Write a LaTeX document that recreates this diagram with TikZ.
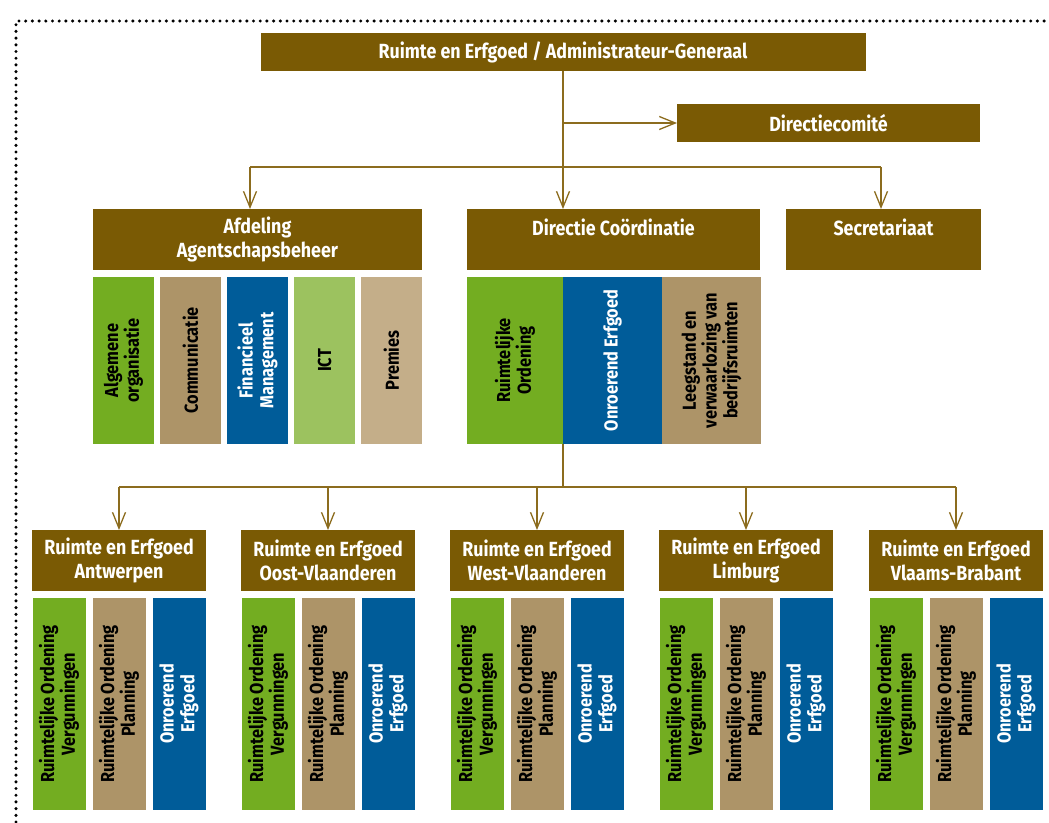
\documentclass[tikz,border=0pt]{standalone}
\usepackage{fontspec}
\setmainfont{Fira Sans}[FakeStretch=0.87]
\usetikzlibrary{arrows.meta}

\definecolor{rebrown}{HTML}{7A5A04}
\definecolor{relink}{HTML}{8C6C1E}
\definecolor{regreen}{HTML}{73AD21}
\definecolor{retan}{HTML}{AD9468}
\definecolor{reblue}{HTML}{005C99}
\definecolor{relgreen}{HTML}{9CC25F}
\definecolor{reltan}{HTML}{C4AE89}

\begin{document}
\begin{tikzpicture}[x=1pt, y=-1pt,
  every node/.style={inner sep=0pt, outer sep=0pt, align=center, font=\bfseries\fontsize{20.5}{24}\selectfont},
  hdr/.style={fill=rebrown, text=white},
  vbox/.style={rotate=90, font=\bfseries\fontsize{18.8}{20.8}\selectfont},
  link/.style={draw=relink, line width=1.3pt},
  arr/.style={link, -{Straight Barb[length=16pt, width=13pt]}},
  dotline/.style={draw=black, line width=3.4pt, dash pattern=on 0pt off 6.7pt, line cap=round}]
  \useasboundingbox (0,0) rectangle (1049,822);
  \path[dotline] (16,822) -- (16,21) -- (1049,21);

  % top level
  \node[hdr, minimum width=605pt, minimum height=38pt] (top) at (563,52) {Ruimte en Erfgoed / Administrateur-Generaal};
  \node[hdr, minimum width=303pt, minimum height=38pt] (dcom) at (828.5,123) {Directiecomité};

  \node[hdr, minimum width=329pt, minimum height=61pt] (afd) at (257.5,239.5) {Afdeling\\Agentschapsbeheer};
  \node[hdr, minimum width=293pt, minimum height=61pt] (dco) at (613.5,239.5) {Directie Coördinatie\\~};
  \node[hdr, minimum width=195pt, minimum height=61pt] (sec) at (883.5,239.5) {Secretariaat\\~};

  % afdeling agentschapsbeheer
  \node[vbox, fill=regreen, minimum width=167pt, minimum height=61pt] (alg) at (123.5,360.5) {Algemene\\organisatie};
  \node[vbox, fill=retan, minimum width=167pt, minimum height=61pt] (com) at (190.5,360.5) {Communicatie};
  \node[vbox, fill=reblue, text=white, minimum width=167pt, minimum height=61pt] (fin) at (257.5,360.5) {Financieel\\Management};
  \node[vbox, fill=relgreen, minimum width=167pt, minimum height=61pt] (ict) at (324.5,360.5) {ICT};
  \node[vbox, fill=reltan, minimum width=167pt, minimum height=61pt] (prem) at (391.5,360.5) {Premies};

  % directie coordinatie
  \node[vbox, fill=regreen, minimum width=167pt, minimum height=96pt] (ro) at (515,360.5) {Ruimtelijke\\Ordening};
  \node[vbox, fill=reblue, text=white, minimum width=167pt, minimum height=99pt] (oe) at (612.5,360.5) {Onroerend Erfgoed};
  \node[vbox, fill=retan, minimum width=167pt, minimum height=99pt] (leeg) at (711.5,360.5) {Leegstand en\\verwaarlozing van\\bedrijfsruimten};

  % provincies
  \foreach \x/\n/\prov in {32/1/Antwerpen, 241/2/Oost-Vlaanderen, 450/3/West-Vlaanderen, 659/4/Limburg, 869/5/Vlaams-Brabant}{
    \node[hdr, minimum width=174pt, minimum height=61pt] (r\n) at (\x+87,560.5) {Ruimte en Erfgoed\\\prov};
    \node[vbox, fill=regreen, minimum width=212pt, minimum height=53pt] (r\n a) at (\x+27,704) {Ruimtelijke Ordening\\Vergunningen};
    \node[vbox, fill=retan, minimum width=212pt, minimum height=53pt] (r\n b) at (\x+87,704) {Ruimtelijke Ordening\\Planning};
    \node[vbox, fill=reblue, text=white, minimum width=212pt, minimum height=53pt] (r\n c) at (\x+147,704) {Onroerend\\Erfgoed};
  }

  % connectors
  \coordinate (j1) at (563,123);
  \coordinate (j2) at (563,167);
  \coordinate (b1) at (250,167);
  \coordinate (b2) at (881,167);
  \coordinate (j4) at (563,444);
  \coordinate (j3) at (563,487);

  \path (top.south) edge[link] (j2);
  \path (j1) edge[arr] (dcom.west);
  \path (b1) edge[link] (b2);
  \path (b1) edge[arr] (b1 |- afd.north);
  \path (j2) edge[arr] (j2 |- dco.north);
  \path (b2) edge[arr] (b2 |- sec.north);

  \path (j4) edge[link] (j3);
  \path (r1.north |- j3) edge[link] (r5.north |- j3);
  \foreach \n in {1,...,5}
    \path (r\n.north |- j3) edge[arr] (r\n.north);
\end{tikzpicture}
\end{document}
